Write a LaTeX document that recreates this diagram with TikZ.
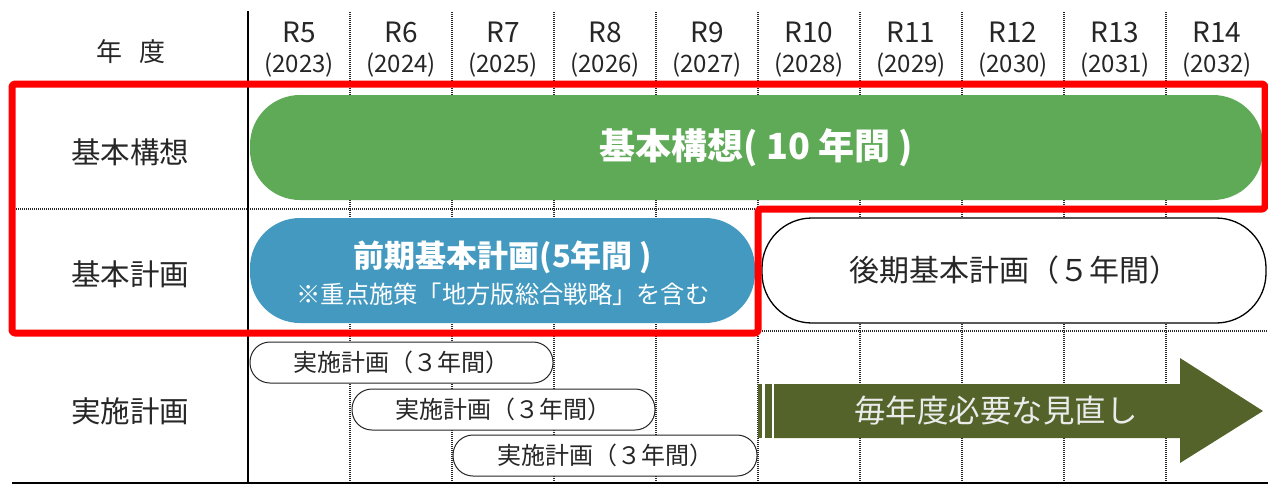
\documentclass[tikz,border=0pt]{standalone}
\usepackage{fontspec}
\setmainfont{Noto Sans CJK JP}
\newcommand\fsz[1]{\fontsize{#1}{#1}\selectfont}
\definecolor{barGreen}{RGB}{95,170,87}
\definecolor{barBlue}{RGB}{67,153,192}
\definecolor{arrowOlive}{RGB}{83,99,41}
\definecolor{txtDark}{RGB}{38,38,38}
\definecolor{gridGray}{RGB}{40,40,40}
\tikzset{
  gridline/.style={draw=gridGray, line width=1.3pt, dash pattern=on 1pt off 1pt},
  rowlabel/.style={text=txtDark, inner sep=0pt, font=\fsz{29.5}},
  yearR/.style={text=txtDark, inner sep=0pt, font=\fsz{28}},
  yearN/.style={text=txtDark, inner sep=0pt, font=\fsz{24}},
  bigbar/.style={rounded corners=50pt, minimum height=105pt, inner sep=0pt},
  pill/.style={draw=txtDark, line width=1pt, fill=white, rounded corners=20pt, minimum height=41pt, inner sep=0pt, text=txtDark, font=\fsz{24}},
}
\begin{document}
\begin{tikzpicture}[x=1pt,y=-1pt]
\useasboundingbox (0,0) rectangle (1268,485);
% grid
\foreach \i in {1,...,9}{
  \draw[gridline] (248+\i*102,12) -- (248+\i*102,483);
}
\draw[gridline] (12,209) -- (1268,209);
\draw[gridline] (12,331) -- (1268,331);
\draw[line width=1.6pt, black] (248,11) -- (248,483);
\draw[line width=2pt, black] (12,483) -- (1268,483);
% header
\node[rowlabel, font=\fsz{26}] (hdr) at (131,52) {年\hspace{0.65em}度};
\foreach \r/\y [count=\i from 0] in {R5/2023,R6/2024,R7/2025,R8/2026,R9/2027,R10/2028,R11/2029,R12/2030,R13/2031,R14/2032}{
  \node[yearR] (r\i) at (299+\i*102,32) {\r};
  \node[yearN] (y\i) at (299+\i*102,65) {(\y)};
}
% row labels
\node[rowlabel] (lab1) at (130,152) {基本構想};
\node[rowlabel] (lab2) at (130,274) {基本計画};
\node[rowlabel] (lab3) at (130,411) {実施計画};
% bars
\node[bigbar, fill=barGreen, minimum width=1013pt, text=white, font=\fsz{36}\bfseries] (kousou) at (756.5,147.5) {基本構想( 10 年間 )};
\node[bigbar, fill=barBlue, minimum width=505pt] (zenki) at (502.5,270.5) {};
\node[text=white, inner sep=0pt, font=\fsz{31}\bfseries] (zenkiT) at (503,257) {前期基本計画(5年間 )};
\node[text=white, inner sep=0pt, font=\fsz{24.3}] (zenkiS) at (503,294) {※重点施策「地方版総合戦略」を含む};
\node[bigbar, draw=black, line width=1.3pt, fill=white, minimum width=504pt, text=txtDark, font=\fsz{30}] (kouki) at (1014,270.5) {後期基本計画（５年間）};
% pills
\node[pill, minimum width=303pt] (p1) at (401.5,362.5) {実施計画（３年間）};
\node[pill, minimum width=303pt] (p2) at (503.5,409.5) {実施計画（３年間）};
\node[pill, minimum width=304pt] (p3) at (605,455.5) {実施計画（３年間）};
% red frame
\draw[red, line width=7pt, rounded corners=3pt, line join=round]
  (12,84) -- (1265,84) -- (1265,209) -- (758,209) -- (758,333) -- (12,333) -- cycle;
% arrow
\fill[arrowOlive] (774,384) -- (1180,384) -- (1180,358) -- (1263,411) -- (1180,463) -- (1180,438) -- (774,438) -- cycle;
\fill[arrowOlive] (758,384) rectangle (762,438);
\fill[arrowOlive] (765,384) rectangle (772,438);
\node[text=white!92!black, inner sep=0pt, font=\fsz{31.5}] (arrowT) at (996,411) {毎年度必要な見直し};
\end{tikzpicture}
\end{document}
